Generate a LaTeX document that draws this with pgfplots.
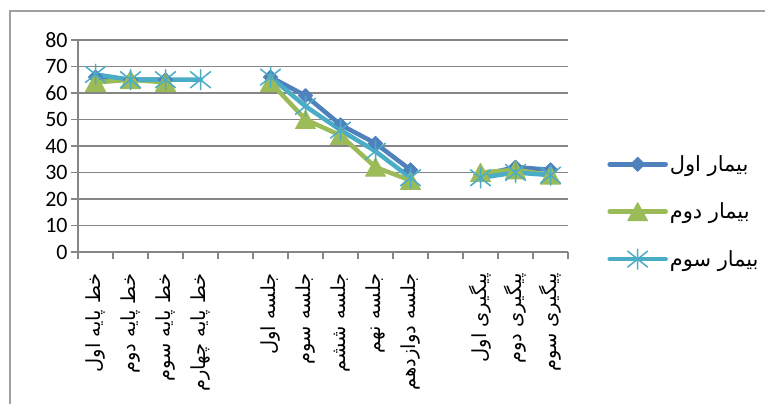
\documentclass[border=0pt]{standalone}
\usepackage{fontspec}
\usepackage{pgfplots}
\pgfplotsset{compat=1.18}
\setmainfont{Carlito}
\newfontfamily\arabicfont[Script=Arabic]{DejaVu Sans}
\TeXXeTstate=1
\definecolor{s1}{RGB}{79,129,189}
\definecolor{s2}{RGB}{155,187,89}
\definecolor{s3}{RGB}{75,172,198}
\definecolor{gridc}{RGB}{134,134,134}
\definecolor{framec}{RGB}{160,160,160}
\pgfdeclareplotmark{xdia}{%
  \pgfpathmoveto{\pgfqpoint{0pt}{\pgfplotmarksize}}%
  \pgfpathlineto{\pgfqpoint{\pgfplotmarksize}{0pt}}%
  \pgfpathlineto{\pgfqpoint{0pt}{-\pgfplotmarksize}}%
  \pgfpathlineto{\pgfqpoint{-\pgfplotmarksize}{0pt}}%
  \pgfpathclose\pgfusepathqfillstroke}
\pgfdeclareplotmark{xtri}{%
  \pgfpathmoveto{\pgfqpoint{0pt}{\pgfplotmarksize}}%
  \pgfpathlineto{\pgfqpoint{1.1\pgfplotmarksize}{-\pgfplotmarksize}}%
  \pgfpathlineto{\pgfqpoint{-1.1\pgfplotmarksize}{-\pgfplotmarksize}}%
  \pgfpathclose\pgfusepathqfillstroke}
\pgfdeclareplotmark{xstar}{%
  \pgfpathmoveto{\pgfqpoint{0pt}{\pgfplotmarksize}}%
  \pgfpathlineto{\pgfqpoint{0pt}{-\pgfplotmarksize}}%
  \pgfpathmoveto{\pgfqpoint{-\pgfplotmarksize}{0.8\pgfplotmarksize}}%
  \pgfpathlineto{\pgfqpoint{\pgfplotmarksize}{-0.8\pgfplotmarksize}}%
  \pgfpathmoveto{\pgfqpoint{-\pgfplotmarksize}{-0.8\pgfplotmarksize}}%
  \pgfpathlineto{\pgfqpoint{\pgfplotmarksize}{0.8\pgfplotmarksize}}%
  \pgfusepathqstroke}
\begin{document}
\begin{tikzpicture}
\useasboundingbox (0,0) rectangle (765bp,404bp);
\draw[framec, line width=1.5bp] (10bp,0bp) -- (10bp,393bp) -- (765bp,393bp);
\begin{axis}[
  at={(78bp,152bp)}, anchor=south west,
  scale only axis, width=490bp, height=212bp,
  xmin=-0.5, xmax=13.5, ymin=0, ymax=80,
  axis lines*=left,
  axis line style={gridc, line width=1.5bp},
  ymajorgrids, grid style={gridc, line width=1.5bp},
  tick align=outside, major tick length=7bp,
  tick style={gridc, line width=1.5bp},
  ytick={0,10,...,80},
  /pgf/number format/assume math mode=true,
  xtick={-0.5,0.5,...,13.5}, xticklabel={\mbox{}},
  extra x ticks={0,1,2,3,5,6,7,8,9,11,12,13},
  extra x tick labels={{\beginR خط پایه اول\endR},{\beginR خط پایه دوم\endR},{\beginR خط پایه سوم\endR},{\beginR خط پایه چهارم\endR},{\beginR جلسه اول\endR},{\beginR جلسه سوم\endR},{\beginR جلسه ششم\endR},{\beginR جلسه نهم\endR},{\beginR جلسه دوازدهم\endR},{\beginR پیگیری اول\endR},{\beginR پیگیری دوم\endR},{\beginR پیگیری سوم\endR}},
  extra x tick style={major tick length=0pt, tick label style={rotate=90, anchor=east, xshift=-18bp, font=\arabicfont\fontsize{19.5}{23}\selectfont}},
  yticklabel style={font=\fontsize{22}{26}\selectfont},
  unbounded coords=jump,
  every axis plot/.append style={line width=4.5bp, line cap=round, line join=round},
  legend style={draw=none, fill=none, at={(1.08,0.19)}, anchor=west, inner sep=0pt,
    font=\arabicfont\fontsize{21}{25}\selectfont, row sep=26bp},
  legend cell align=left,
  legend image code/.code={\draw[mark repeat=2,mark phase=2] plot coordinates {(0bp,0bp) (28bp,0bp) (56bp,0bp)};},
]
\addplot[s1, mark=xdia, mark size=7bp, mark options={line width=1bp}] coordinates {
 (0,66) (1,65) (2,65) (3,nan) (4,nan) (5,66) (6,59) (7,48) (8,41) (9,31) (10,nan) (11,29) (12,32) (13,31)};
\addlegendentry{\beginR بیمار اول\endR}
\addplot[s2, mark=xtri, mark size=9bp, mark options={line width=1bp}] coordinates {
 (0,64) (1,65) (2,64) (3,nan) (4,nan) (5,64) (6,50) (7,44) (8,32) (9,27) (10,nan) (11,30) (12,31) (13,29)};
\addlegendentry{\beginR بیمار دوم\endR}
\addplot[s3, mark=xstar, mark size=10bp, mark options={line width=1.5bp}] coordinates {
 (0,67) (1,65) (2,65) (3,65) (4,nan) (5,66) (6,55) (7,46) (8,38) (9,28) (10,nan) (11,28) (12,30) (13,29)};
\addlegendentry{\beginR بیمار سوم\endR}
\end{axis}
\end{tikzpicture}
\end{document}
